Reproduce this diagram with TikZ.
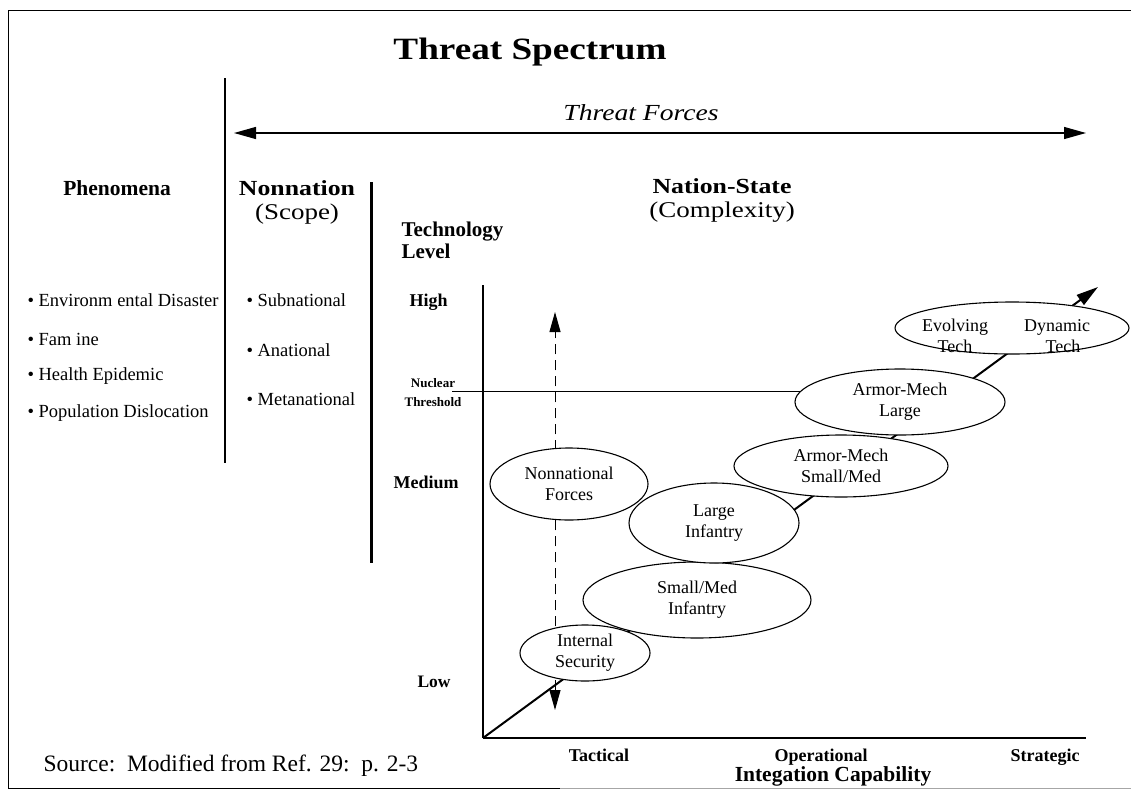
\documentclass[tikz,border=0pt]{standalone}
\usepackage{fontspec}
\setmainfont{Liberation Serif}
\newfontfamily\wide{Liberation Serif}[FakeStretch=1.2]
\usetikzlibrary{arrows.meta,shapes.geometric,calc}
\newcommand\fz[2]{\fontsize{#1}{#2}\selectfont}
\pgfdeclarelayer{bg}
\pgfsetlayers{bg,main}
\begin{document}
\begin{tikzpicture}[x=1pt,y=-1pt,
  ell/.style={draw, ellipse, fill=white, line width=1.1pt, inner sep=0pt, align=center, font=\fz{18}{21}},
  hdr/.style={font=\wide\fz{21.5}{24}\bfseries},
  sub/.style={font=\wide\fz{22.5}{25}},
  item/.style={anchor=west, font=\fz{18.5}{21}},
  lvl/.style={anchor=west, font=\fz{18}{20}\bfseries},
  xlab/.style={font=\fz{18}{20}\bfseries},
  nuc/.style={font=\fz{13}{15}\bfseries},
  bigtip/.style={-{Triangle[length=22pt,width=12pt]}},
  dtip/.style={{Triangle[length=20pt,width=11pt]}-{Triangle[length=20pt,width=11pt]}},
]
\useasboundingbox (0,0) rectangle (1131,790);
% frame
\draw[line width=1pt] (8,788) -- (8,10) -- (1131,10);
\draw[line width=1pt] (8,788) -- (560,788);
\draw[line width=0.8pt, black!35] (560,788) -- (1131,788);

% title and header area
\node[font=\wide\fz{31}{34}\bfseries] (title) at (530,52) {Threat Spectrum};
\draw[line width=2pt] (225,78) -- (225,463);
\node[font=\wide\fz{23}{26}\itshape] (tf) at (641,113) {Threat Forces};
\coordinate (tfl) at (234,133);
\coordinate (tfr) at (1086,133);
\draw[line width=1.3pt, {Triangle[length=22pt,width=12pt]}-{Triangle[length=22pt,width=12pt]}] (tfl) -- (tfr);

\node[hdr, font=\fz{21.5}{24}\bfseries] (phen) at (117,188) {Phenomena};
\node[hdr] (nonn) at (297,188) {Nonnation};
\node[sub] (scope) at (297,214) {(Scope)};
\node[hdr] (ns) at (722,186) {Nation-State};
\node[sub] (cplx) at (722,212) {(Complexity)};
\draw[line width=3pt] (371,182) -- (371,563);
\node[anchor=west, align=left, font=\fz{21}{22}\bfseries] (tech) at (398,240) {Technology\\Level};

% lists
\node[item] (p1) at (24,300) {\textbullet\ Environm ental Disaster};
\node[item] (p2) at (24,339) {\textbullet\ Fam ine};
\node[item] (p3) at (24,376) {\textbullet\ Health Epidemic};
\node[item] (p4) at (24,413) {\textbullet\ Population Dislocation};
\node[item] (n1) at (243,300) {\textbullet\ Subnational};
\node[item] (n2) at (243,350) {\textbullet\ Anational};
\node[item] (n3) at (243,399) {\textbullet\ Metanational};

% axis labels
\node[lvl] (high) at (406,302) {High};
\node[nuc] (nuc1) at (433,383) {Nuclear};
\node[nuc] (nuc2) at (433,402) {Threshold};
\node[lvl] (med) at (390,482) {Medium};
\node[lvl, font=\fz{17.5}{20}\bfseries] (low) at (414,682) {Low};
\node[xlab] (tac) at (599,755) {Tactical};
\node[xlab] (ope) at (821,757) {Operational};
\node[xlab] (str) at (1045,757) {Strategic};
\node[font=\fz{21.5}{24}\bfseries] (integ) at (833,776) {Integation Capability};
\node[anchor=west, font=\fz{23.5}{26}] (src) at (40,766) {Source:\ \ Modified from Ref. 29:\ \ p. 2-3};

% axes
\coordinate (O) at (483,738);
\coordinate (ytop) at (483,285);
\coordinate (xend) at (1086,738);
\coordinate (tip) at (1098,287);
\coordinate (dtop) at (555,312);
\coordinate (dbot) at (555,710);
\coordinate (nl) at (452,391);
\draw[line width=1.2pt] (ytop) -- (O);
\draw[line width=2pt] (O) -- (xend);

% ellipses
\node[ell, minimum width=130pt, minimum height=56pt] (is) at (585,653) {Internal\\Security};
\node[ell, minimum width=228pt, minimum height=76pt] (sm) at (697,600) {Small/Med\\Infantry};
\node[ell, minimum width=170pt, minimum height=80pt] (li) at (714,523) {Large\\Infantry};
\node[ell, minimum width=158pt, minimum height=72pt] (nn) at (569,484) {Nonnational\\Forces};
\node[ell, minimum width=214pt, minimum height=62pt] (ams) at (841,466) {Armor-Mech\\Small/Med};
\node[ell, minimum width=210pt, minimum height=66pt] (aml) at (900,402) {Armor-Mech\\Large};
\node[ell, minimum width=234pt, minimum height=52pt] (ev) at (1012,328) {};
\node[font=\fz{18}{21}, align=center] (evl) at ($(ev.center)+(-57,8)$) {Evolving\\Tech};
\node[font=\fz{18}{21}, align=center] (evr) at ($(ev.center)+(45,8)$) {Dynamic\\\hspace*{12pt}Tech};

% background connectors
\begin{pgfonlayer}{bg}
\draw[line width=2pt, bigtip] (O) -- (tip);
\draw[line width=1pt] (nl) -- (nl -| aml.center);
\draw[line width=1pt, dash pattern=on 10pt off 6pt, dtip] (dbot) -- (dtop);
\end{pgfonlayer}
\end{tikzpicture}
\end{document}
